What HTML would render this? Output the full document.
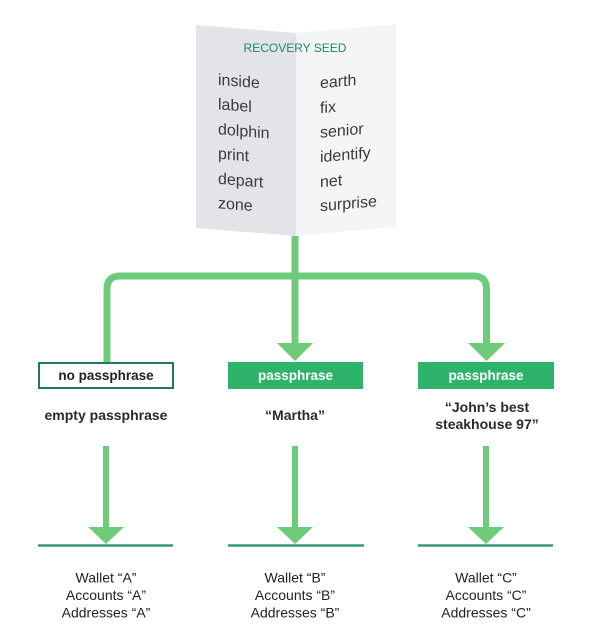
<!DOCTYPE html>
<html>
<head>
<meta charset="utf-8">
<style>
  html, body { margin: 0; padding: 0; background: #ffffff; }
  svg { display: block; }
  text { font-family: "Liberation Sans", Arial, sans-serif; }
</style>
</head>
<body>
<svg width="600" height="628" viewBox="0 0 600 628" xmlns="http://www.w3.org/2000/svg">
  <rect x="0" y="0" width="600" height="628" fill="#ffffff"/>

  <!-- Booklet -->
  <polygon points="196,25 295,33 295,236 196,228" fill="#e2e4e7"/>
  <polygon points="295,33 396,24 396,227 295,236" fill="#f4f5f7"/>
  <line x1="295" y1="33" x2="295" y2="236" stroke="#d9dbde" stroke-width="1"/>

  <text x="295" y="52" font-size="12" fill="#1d8a62" text-anchor="middle">RECOVERY SEED</text>

  <g transform="matrix(1,0.0816,0,1,0,-16)" font-size="16" fill="#3b3b3b">
    <text x="218" y="83">inside</text>
    <text x="218" y="107.5">label</text>
    <text x="218" y="132.5">dolphin</text>
    <text x="218" y="157">print</text>
    <text x="218" y="182">depart</text>
    <text x="218" y="206.5">zone</text>
  </g>
  <g transform="matrix(1,-0.088,0,1,0,25.9)" font-size="16" fill="#3b3b3b">
    <text x="320" y="90.5">earth</text>
    <text x="320" y="115.5">fix</text>
    <text x="320" y="140">senior</text>
    <text x="320" y="164.5">identify</text>
    <text x="320" y="189.5">net</text>
    <text x="320" y="213.5">surprise</text>
  </g>

  <!-- Top connectors -->
  <g stroke="#6fcb7c" stroke-width="7" fill="none">
    <path d="M107,362 V289 Q107,276 120,276 H473.5 Q486.5,276 486.5,289 V344"/>
    <path d="M295,236 V344"/>
  </g>
  <path d="M286,276 Q295,272 295,264 Q295,272 304,276 Q295,280 295,288 Q295,280 286,276 Z" fill="#6fcb7c"/>
  <polygon points="277,343 313,343 295,361" fill="#6fcb7c"/>
  <polygon points="468,343 505,343 486.5,361" fill="#6fcb7c"/>

  <!-- Boxes -->
  <rect x="39" y="363" width="134" height="25" fill="#ffffff" stroke="#1f7a58" stroke-width="2"/>
  <text x="106" y="380" font-size="13.5" font-weight="bold" fill="#222222" text-anchor="middle">no passphrase</text>

  <rect x="228" y="362" width="135" height="27" fill="#2db46a"/>
  <text x="295.5" y="380" font-size="13.5" font-weight="bold" fill="#ffffff" text-anchor="middle">passphrase</text>

  <rect x="418" y="362" width="136" height="27" fill="#2db46a"/>
  <text x="486" y="380" font-size="13.5" font-weight="bold" fill="#ffffff" text-anchor="middle">passphrase</text>

  <!-- Passphrase labels -->
  <g font-size="14" font-weight="bold" fill="#2a2a2a" text-anchor="middle">
    <text x="106" y="420">empty passphrase</text>
    <text x="295" y="420">“Martha”</text>
    <text x="487" y="412">“John’s best</text>
    <text x="487" y="429">steakhouse 97”</text>
  </g>

  <!-- Bottom arrows -->
  <g stroke="#6fcb7c" stroke-width="6" fill="none">
    <path d="M106,446 V529"/>
    <path d="M295,446 V529"/>
    <path d="M486,446 V529"/>
  </g>
  <g fill="#6fcb7c">
    <polygon points="88,527 124,527 106,544"/>
    <polygon points="277,527 313,527 295,544"/>
    <polygon points="468,527 504,527 486,544"/>
  </g>
  <g stroke="#3a9a6f" stroke-width="2.5">
    <line x1="38" y1="545.5" x2="173" y2="545.5"/>
    <line x1="228" y1="545.5" x2="364" y2="545.5"/>
    <line x1="418" y1="545.5" x2="553" y2="545.5"/>
  </g>

  <!-- Wallet labels -->
  <g font-size="14" fill="#222222" text-anchor="middle">
    <text x="106" y="582.5">Wallet “A”</text>
    <text x="106" y="600">Accounts “A”</text>
    <text x="106" y="617.5">Addresses “A”</text>
    <text x="295" y="582.5">Wallet “B”</text>
    <text x="295" y="600">Accounts “B”</text>
    <text x="295" y="617.5">Addresses “B”</text>
    <text x="486" y="582.5">Wallet “C”</text>
    <text x="486" y="600">Accounts “C”</text>
    <text x="486" y="617.5">Addresses “C”</text>
  </g>
</svg>
</body>
</html>
